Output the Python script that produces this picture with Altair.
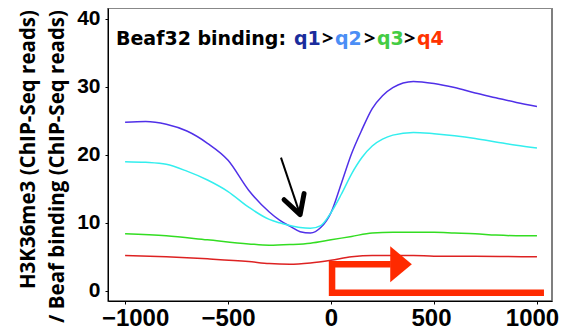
import altair as alt
import pandas as pd

# ---- data ----
q1_x = [-1000, -900, -800, -700, -600, -500, -400, -300, -250, -200, -150, -100, -50, 0, 50, 100, 150, 200, 250, 300, 400, 500, 600, 700, 800, 900, 1000]
q1_y = [24.8, 24.9, 24.5, 23.5, 21.7, 19.2, 14.8, 11.6, 10.4, 9.5, 8.7, 8.5, 9.3, 11.5, 15.8, 20.2, 23.7, 26.8, 28.7, 29.9, 30.8, 30.5, 29.9, 29.1, 28.4, 27.7, 27.1]
q2_x = q1_x
q2_y = [19.0, 18.9, 18.6, 17.6, 16.3, 14.6, 12.3, 10.5, 10.0, 9.6, 9.3, 9.2, 9.6, 11.5, 14.2, 17.2, 19.6, 21.3, 22.3, 22.9, 23.3, 23.1, 22.8, 22.4, 21.9, 21.4, 21.0]
q3_x = [-1000, -800, -600, -400, -300, -200, -100, 0, 100, 200, 300, 400, 500, 600, 700, 800, 900, 1000]
q3_y = [8.4, 8.1, 7.5, 6.9, 6.7, 6.8, 7.0, 7.5, 8.0, 8.5, 8.6, 8.6, 8.6, 8.5, 8.4, 8.2, 8.1, 8.1]
q4_x = [-1000, -800, -600, -400, -300, -200, -100, 0, 100, 200, 300, 400, 500, 700, 1000]
q4_y = [5.2, 5.0, 4.7, 4.3, 4.0, 3.9, 4.1, 4.5, 5.0, 5.2, 5.2, 5.2, 5.1, 5.1, 5.0]

series = ["q1", "q2", "q3", "q4"]
line_colors = ["#5030e8", "#33eeee", "#33dd22", "#dd2222"]
title_parts = ["Beaf32 binding: ", "q1", "q2", "q3", "q4"]
title_colors = ["#000000", "#1a2c9c", "#4b8ef5", "#44cc44", "#ff3300"]
title_xpos = [8, 186, 227, 269, 309]
sep_parts = [">", ">", ">"]
sep_xpos = [214, 256, 296]

x_ticks = [-1000, -500, 0, 500, 1000]
y_ticks = [0, 10, 20, 30, 40]
y_title = ["H3K36me3 (ChIP-Seq reads)", "/ Beaf binding (ChIP-Seq reads)"]
y_title_xpos = [-79, -50]

# TSS arrow (annotation) in data units
tss_x = [1034, 5, 5, 290]
tss_y = [-0.3, -0.3, 3.9, 3.9]
tss_head_x = [340]
tss_head_y = [3.9]
# black arrow (annotation)
arr_shaft_x = [-243, -150]
arr_shaft_y = [19.6, 11.2]
arr_head_x = [-228, -150, -131]
arr_head_y = [13.4, 11.2, 14.3]

rows = []
for name, xs_, ys_ in [("q1", q1_x, q1_y), ("q2", q2_x, q2_y), ("q3", q3_x, q3_y), ("q4", q4_x, q4_y)]:
    for i, (a, b) in enumerate(zip(xs_, ys_)):
        rows.append({"series": name, "x": a, "y": b, "o": i})
df = pd.DataFrame(rows)

xs = alt.Scale(domain=[-1083, 1073], nice=False, zero=False)
ys = alt.Scale(domain=[-1.5, 41.6], nice=False, zero=False)
px_scale = alt.Scale(domain=[0, 444], nice=False)

x_axis = alt.Axis(values=x_ticks, format="d", grid=False, domainColor="black", tickColor="black", tickSize=3,
                  labelFont="Liberation Sans", labelFontWeight="bold", labelFontSize=24,
                  labelColor="black", labelPadding=2, title=None, labelFlush=False,
                  labelOffset={"expr": "datum.value == -1000 ? 10 : (datum.value == 1000 ? -5 : (datum.value > 0 ? -3 : 0))"})
y_axis = alt.Axis(values=y_ticks, format="d", grid=False, domainColor="black", tickColor="black", tickSize=3,
                  labelFont="Liberation Sans", labelFontWeight="bold", labelFontSize=21,
                  labelColor="black", labelPadding=5, title=None)

lines = alt.Chart(df).mark_line(strokeWidth=1.5, interpolate="monotone").encode(
    x=alt.X("x:Q", scale=xs, axis=x_axis),
    y=alt.Y("y:Q", scale=ys, axis=y_axis),
    color=alt.Color("series:N", scale=alt.Scale(domain=series, range=line_colors), legend=None),
    order="o:Q",
)

tss_df = pd.DataFrame({"x": tss_x, "y": tss_y, "o": list(range(len(tss_x)))})
tss = alt.Chart(tss_df).mark_line(color="#ff2a00", strokeWidth=6.5, strokeJoin="miter", strokeCap="butt").encode(
    x=alt.X("x:Q", scale=xs), y=alt.Y("y:Q", scale=ys), order="o:Q")
head = alt.Chart(pd.DataFrame({"x": tss_head_x, "y": tss_head_y})).mark_point(
    shape="M-0.6,-1 L0.6,0 L-0.6,1 Z", size=1296, filled=True, color="#ff2a00", opacity=1).encode(
    x=alt.X("x:Q", scale=xs), y=alt.Y("y:Q", scale=ys))

shaft = alt.Chart(pd.DataFrame({"x": arr_shaft_x, "y": arr_shaft_y})).mark_line(color="black", strokeWidth=2).encode(
    x=alt.X("x:Q", scale=xs), y=alt.Y("y:Q", scale=ys))
ahead = alt.Chart(pd.DataFrame({"x": arr_head_x, "y": arr_head_y, "o": [0, 1, 2]})).mark_line(
    color="black", strokeWidth=5, strokeJoin="round", strokeCap="round").encode(
    x=alt.X("x:Q", scale=xs), y=alt.Y("y:Q", scale=ys), order="o:Q")

tdf = pd.DataFrame({"t": title_parts, "c": title_colors, "px": title_xpos})
title_text = alt.Chart(tdf).mark_text(align="left", baseline="alphabetic", font="DejaVu Sans", fontWeight="bold",
                                      fontSize=19).encode(
    x=alt.X("px:Q", scale=px_scale, axis=None),
    y=alt.value(37),
    text="t:N",
    color=alt.Color("c:N", scale=None),
)
sdf = pd.DataFrame({"t": sep_parts, "px": sep_xpos})
sep_text = alt.Chart(sdf).mark_text(align="left", baseline="alphabetic", font="Open Sans", fontWeight="bold",
                                    fontSize=20, color="black").encode(
    x=alt.X("px:Q", scale=px_scale, axis=None),
    y=alt.value(37),
    text="t:N",
)

ydf = pd.DataFrame({"t": y_title, "px": y_title_xpos})
y_title_text = alt.Chart(ydf).mark_text(align="right", baseline="middle", angle=270, font="Open Sans",
                                        fontWeight="bold", fontSize=20.5, color="black").encode(
    x=alt.X("px:Q", scale=px_scale, axis=None),
    y=alt.value(2),
    text="t:N",
)

chart = alt.layer(lines, tss, head, shaft, ahead, title_text, sep_text, y_title_text).resolve_scale(
    x="independent").properties(
    width=444, height=293,
    autosize=alt.AutoSizeParams(type="none"),
    padding={"left": 100, "top": 0, "right": 8, "bottom": 30},
).configure_view(stroke="#555555", strokeWidth=1.5)

chart.save("out.html", embed_options={"renderer": "svg", "actions": False})
